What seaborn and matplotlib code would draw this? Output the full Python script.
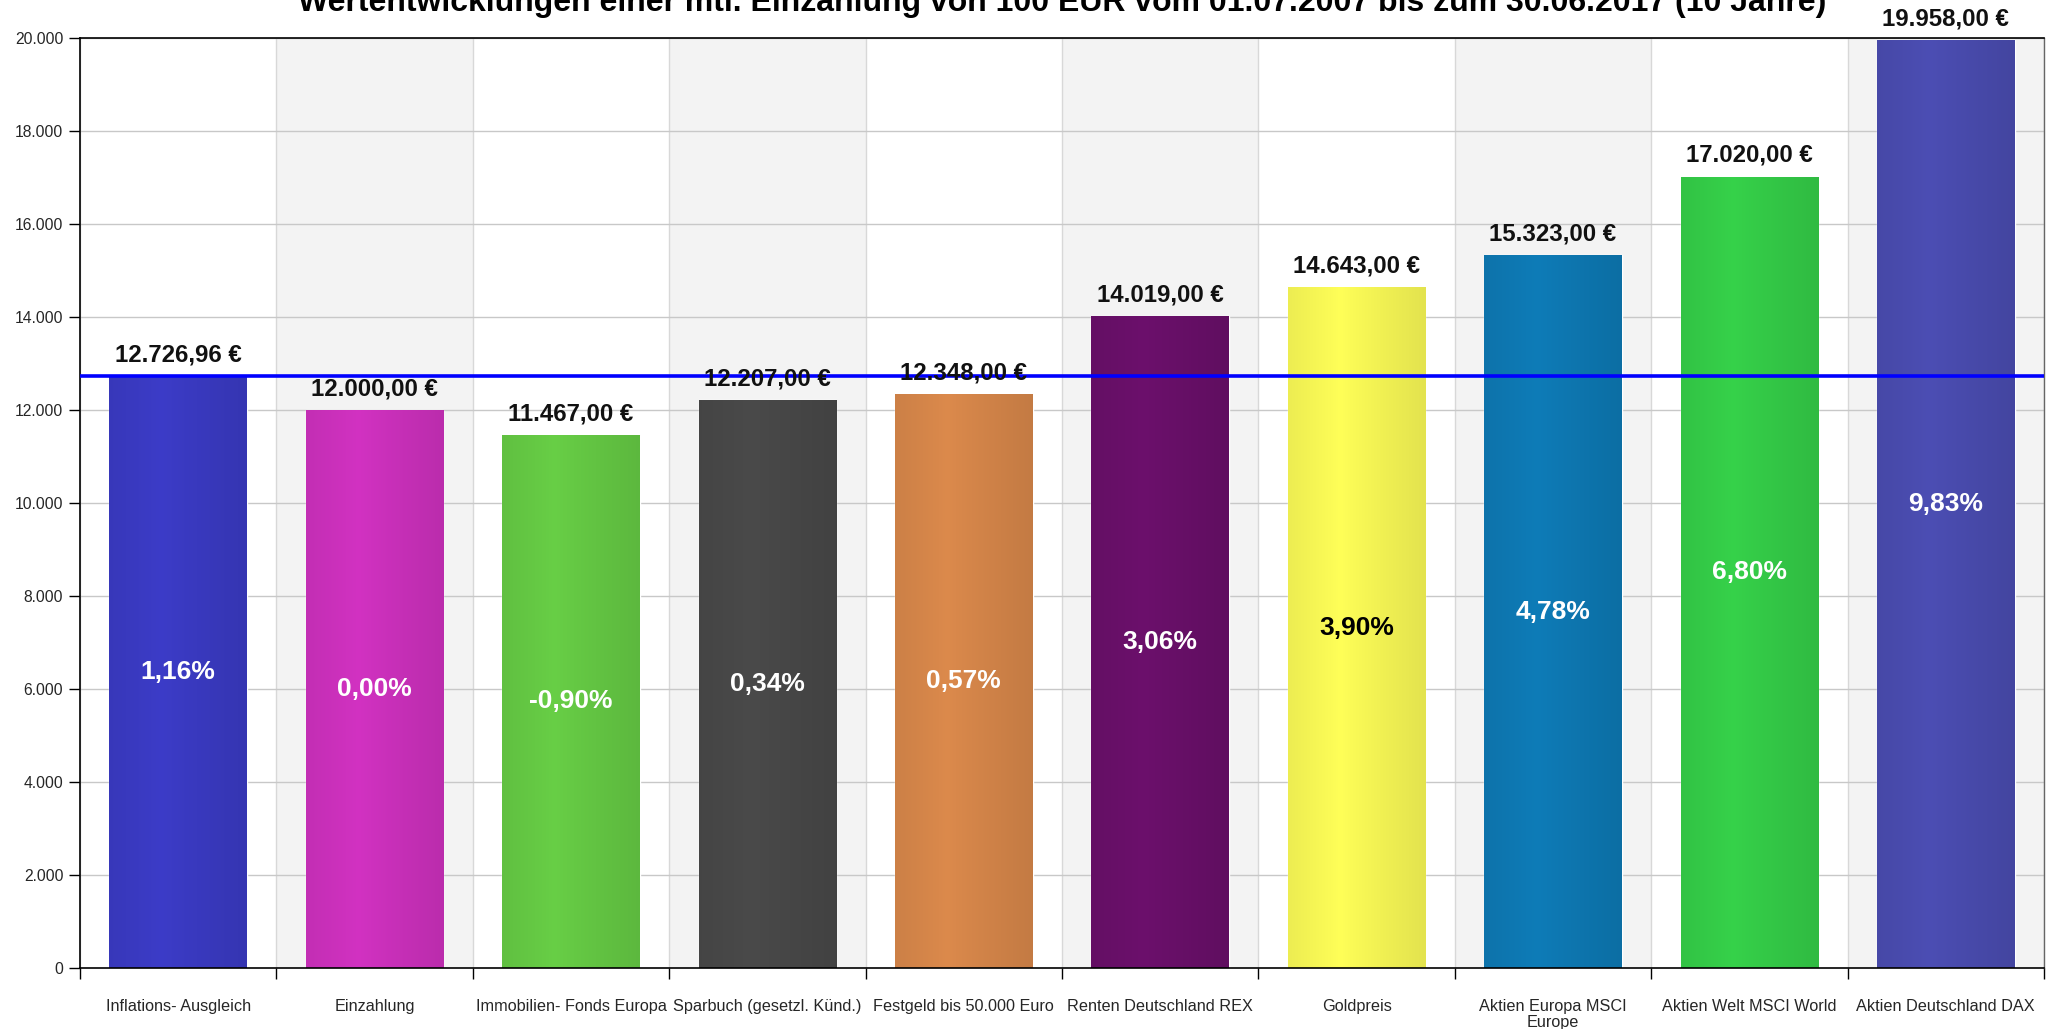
import numpy as np
import matplotlib
matplotlib.use("Agg")
import matplotlib.pyplot as plt
import matplotlib.colors as mcolors
import seaborn as sns

categories = ["Inflations- Ausgleich", "Einzahlung", "Immobilien- Fonds Europa",
              "Sparbuch (gesetzl. Künd.)", "Festgeld bis 50.000 Euro",
              "Renten Deutschland REX", "Goldpreis", "Aktien Europa MSCI\nEurope",
              "Aktien Welt MSCI World", "Aktien Deutschland DAX"]
values = [12726.96, 12000.00, 11467.00, 12207.00, 12348.00,
          14019.00, 14643.00, 15323.00, 17020.00, 19958.00]
value_labels = ["12.726,96 €", "12.000,00 €", "11.467,00 €", "12.207,00 €", "12.348,00 €",
                "14.019,00 €", "14.643,00 €", "15.323,00 €", "17.020,00 €", "19.958,00 €"]
pct_labels = ["1,16%", "0,00%", "-0,90%", "0,34%", "0,57%",
              "3,06%", "3,90%", "4,78%", "6,80%", "9,83%"]
bar_colors = ["#3c3cc8", "#d232c2", "#68cf46", "#4a4a4a", "#dc8a4c",
              "#6c106c", "#ffff58", "#0e7cb8", "#36d24a", "#4c4eb4"]
pct_colors = ["white"] * 6 + ["black"] + ["white"] * 3
inflation_line = 12726.96
title = "Wertentwicklungen einer mtl. Einzahlung von 100 EUR vom 01.07.2007 bis zum 30.06.2017 (10 Jahre)"

sns.set_theme(style="white")
plt.rcParams['font.family'] = ['Liberation Sans', 'DejaVu Sans']

W, H = 2054, 1029
fig = plt.figure(figsize=(W / 100, H / 100), dpi=100)
ax = fig.add_axes([80 / W, (H - 968) / H, (2044 - 80) / W, (968 - 38) / H])

n = len(categories)
# alternating background bands
for i in range(n):
    if i % 2 == 1:
        ax.axvspan(i - 0.5, i + 0.5, color="#f3f3f3", zorder=0, lw=0)
for b in np.arange(-0.5, n, 1.0):
    ax.axvline(b, color="#d8d8d8", lw=1, zorder=0.5)
for yv in range(2000, 20001, 2000):
    ax.axhline(yv, color="#c8c8c8", lw=1, zorder=0.6)

sns.barplot(x=list(range(n)), y=values, hue=list(range(n)), palette=bar_colors,
            width=0.7, saturation=1, legend=False, ax=ax, zorder=2)

bars = [p for c in ax.containers for p in c]
bars.sort(key=lambda p: p.get_x())

# gradient overlay on bars
t = np.linspace(0, 1, 200)
prof = 1 - 0.11 * np.clip(np.abs(t - 0.38) / 0.62, 0, 1) ** 0.9
for i, p in enumerate(bars):
    x0, y0 = p.get_x(), p.get_y()
    w, h = p.get_width(), p.get_height()
    base = np.array(mcolors.to_rgb(bar_colors[i]))
    grad = np.clip(base[None, :] * prof[:, None], 0, 1)[None, :, :]
    im = ax.imshow(grad, extent=[x0, x0 + w, y0, y0 + h], aspect="auto",
                   zorder=2.5, interpolation="bilinear")
    im.set_clip_path(p)

ax.axhline(inflation_line, color="#0000ff", lw=2.6, zorder=3)

for i in range(n):
    ax.annotate(value_labels[i], (i, values[i]), xytext=(0, 7), textcoords="offset points",
                ha="center", va="bottom", fontsize=17.3, fontweight="bold", color="#111111", zorder=5)
    ax.text(i, values[i] / 2, pct_labels[i], ha="center", va="center", fontsize=19,
            fontweight="bold", color=pct_colors[i], zorder=5)

ax.set_xlim(-0.5, n - 0.5)
ax.set_ylim(0, 20000)
ax.set_yticks(range(0, 20001, 2000))
ax.set_yticklabels([f"{v:,}".replace(",", ".") for v in range(0, 20001, 2000)], fontsize=11.3)
ax.set_xticks(np.arange(-0.5, n, 1.0))
ax.set_xticklabels([""] * (n + 1))
ax.set_xticks(range(n), minor=True)
ax.set_xticklabels(categories, minor=True, fontsize=11.7, va="top", linespacing=1.1)
ax.tick_params(axis="x", which="major", length=8, width=1, color="black", direction="out", bottom=True)
ax.tick_params(axis="x", which="minor", length=0, pad=22)
ax.tick_params(axis="y", which="major", length=8, width=1, color="black", left=True, pad=4)
ax.set_xlabel("")
ax.set_ylabel("")

for s in ["left", "bottom", "top"]:
    ax.spines[s].set_visible(True)
    ax.spines[s].set_color("black")
    ax.spines[s].set_linewidth(1.2)
ax.spines["right"].set_visible(True)
ax.spines["right"].set_color("#666666")
ax.spines["right"].set_linewidth(1)

fig.text((80 + 2044) / 2 / W, 1 - 11 / H, title, ha="center", va="baseline",
         fontsize=23, fontweight="bold", color="black")

fig.savefig("out.png", dpi=100)
